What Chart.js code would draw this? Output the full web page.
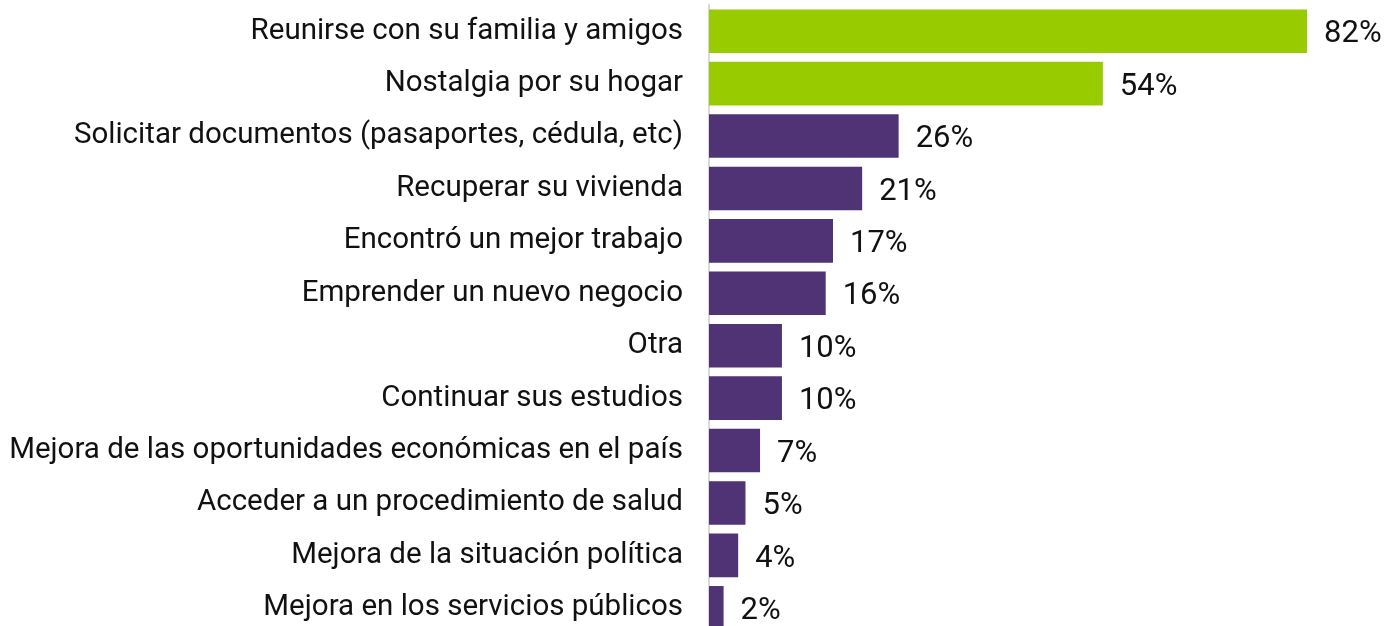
<!DOCTYPE html>
<html>
<head>
<meta charset="utf-8">
<script src="https://cdn.jsdelivr.net/npm/chart.js@4/dist/chart.umd.min.js"></script>
<style>
  html, body { margin: 0; padding: 0; background: #fff; overflow: hidden; }
  #wrap { position: relative; width: 1386px; height: 634px; }
</style>
</head>
<body>
<div id="wrap"><canvas id="chart"></canvas></div>
<script>
const categories = [
  'Reunirse con su familia y amigos',
  'Nostalgia por su hogar',
  'Solicitar documentos (pasaportes, cédula, etc)',
  'Recuperar su vivienda',
  'Encontró un mejor trabajo',
  'Emprender un nuevo negocio',
  'Otra',
  'Continuar sus estudios',
  'Mejora de las oportunidades económicas en el país',
  'Acceder a un procedimiento de salud',
  'Mejora de la situación política',
  'Mejora en los servicios públicos'
];
const values = [82, 54, 26, 21, 17, 16, 10, 10, 7, 5, 4, 2];
const highlighted = [true, true, false, false, false, false, false, false, false, false, false, false];

const GREEN = '#99cc00';
const PURPLE = '#4f3375';
const FONT = 'Roboto, "Noto Sans", sans-serif';
const FONT_SIZE = 29.5;
const VALUE_SIZE = 31;

// draws the "82%" style labels past the end of each bar
const valueLabels = {
  id: 'valueLabels',
  afterDatasetsDraw(chart) {
    const ctx = chart.ctx;
    const meta = chart.getDatasetMeta(0);
    ctx.save();
    ctx.font = VALUE_SIZE + 'px ' + FONT;
    ctx.fillStyle = '#111';
    ctx.textAlign = 'left';
    ctx.textBaseline = 'alphabetic';
    meta.data.forEach((bar, i) => {
      // baseline offset so the digits sit centred on the bar
      ctx.fillText(values[i] + '%', bar.x + 17, bar.y + VALUE_SIZE * 0.36);
    });
    ctx.restore();
  }
};

new Chart(document.getElementById('chart'), {
  type: 'bar',
  data: {
    labels: categories,
    datasets: [{
      data: values,
      backgroundColor: highlighted.map(h => h ? GREEN : PURPLE),
      barPercentage: 0.83,
      categoryPercentage: 1.0,
    }],
  },
  options: {
    indexAxis: 'y',
    responsive: true,
    maintainAspectRatio: false,
    animation: false,
    layout: { padding: { top: 5, right: 6, bottom: 0, left: 0 } },
    plugins: {
      legend: { display: false },
      tooltip: { enabled: false },
    },
    scales: {
      x: {
        display: false,
        min: 0,
        max: 92,
      },
      y: {
        afterFit(scale) {
          scale.width = 709;
          // tick padding would otherwise push the plot area down/up
          scale.paddingTop = 0;
          scale.paddingBottom = 0;
        },
        grid: { display: false, drawTicks: false },
        border: { display: true, color: '#d9d9d9', width: 2 },
        ticks: {
          color: '#111',
          padding: 26,
          autoSkip: false,
          font: { family: FONT, size: FONT_SIZE },
        },
      },
    },
  },
  plugins: [valueLabels],
});
</script>
</body>
</html>
